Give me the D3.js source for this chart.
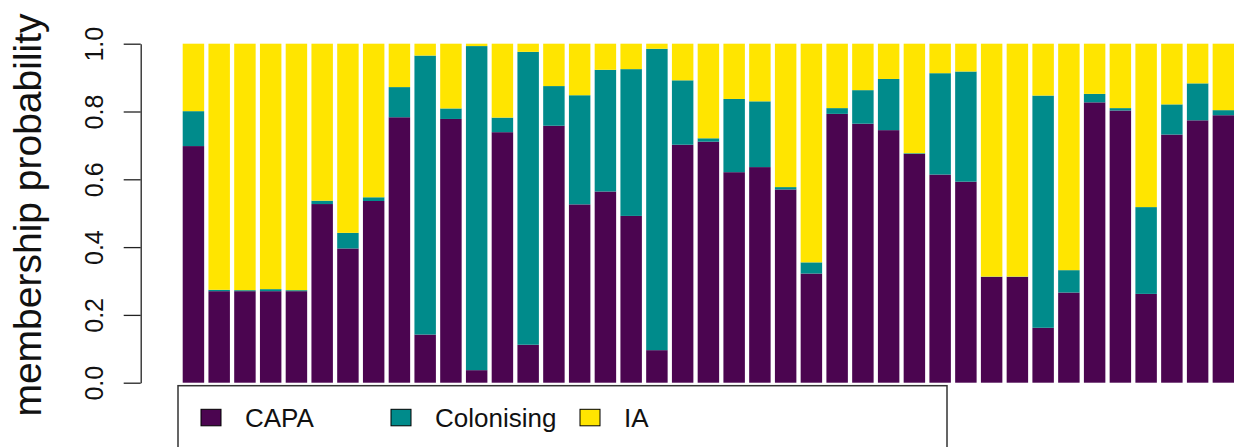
<!DOCTYPE html>
<html>
<head>
<meta charset="utf-8">
<script src="https://cdn.jsdelivr.net/npm/d3@7"></script>
<style>
  html, body { margin: 0; padding: 0; background: #fff; }
  svg { display: block; }
  text { font-family: "Liberation Sans", Arial, sans-serif; }
</style>
</head>
<body>
<svg id="chart" width="1234" height="447"></svg>
<script>
// Membership probabilities per sample (41 samples), stacked bottom to top.
const samples = d3.range(1, 42).map(String);
const capa = [0.698, 0.270, 0.270, 0.270, 0.270, 0.527, 0.396, 0.536, 0.783, 0.142,
              0.778, 0.037, 0.739, 0.112, 0.758, 0.526, 0.564, 0.492, 0.096, 0.702,
              0.711, 0.621, 0.636, 0.570, 0.322, 0.793, 0.764, 0.745, 0.675, 0.614,
              0.593, 0.312, 0.312, 0.162, 0.266, 0.827, 0.803, 0.262, 0.732, 0.774,
              0.789];
const colonising = [0.103, 0.004, 0.003, 0.006, 0.003, 0.010, 0.046, 0.011, 0.089, 0.823,
                    0.031, 0.956, 0.043, 0.864, 0.117, 0.322, 0.359, 0.433, 0.889, 0.190,
                    0.010, 0.216, 0.194, 0.007, 0.033, 0.017, 0.099, 0.151, 0.002, 0.299,
                    0.325, 0.001, 0.001, 0.685, 0.066, 0.025, 0.007, 0.256, 0.089, 0.109,
                    0.015];
const ia = [0.199, 0.726, 0.727, 0.724, 0.727, 0.463, 0.558, 0.453, 0.128, 0.035,
            0.191, 0.007, 0.218, 0.024, 0.125, 0.152, 0.077, 0.075, 0.015, 0.108,
            0.279, 0.163, 0.170, 0.423, 0.645, 0.190, 0.137, 0.104, 0.323, 0.087,
            0.082, 0.687, 0.687, 0.153, 0.668, 0.148, 0.190, 0.482, 0.179, 0.117,
            0.196];
const groups = ["CAPA", "Colonising", "IA"];
const groupColors = ["#4b0550", "#008b8b", "#ffe500"];
const yTicks = [0, 0.2, 0.4, 0.6, 0.8, 1.0];

const rows = samples.map((s, i) => ({
  sample: s, CAPA: capa[i], Colonising: colonising[i], IA: ia[i]
}));

const svg = d3.select("#chart");

const x = d3.scaleBand()
  .domain(samples)
  .range([182.7, 1234.1])
  .paddingInner(1 / 6)
  .paddingOuter(0);

const y = d3.scaleLinear().domain([0, 1]).range([382.7, 43.7]);

const color = d3.scaleOrdinal().domain(groups).range(groupColors);

const series = d3.stack().keys(groups)(rows);

svg.append("g")
  .selectAll("g")
  .data(series)
  .join("g")
    .attr("fill", d => color(d.key))
  .selectAll("rect")
  .data(d => d)
  .join("rect")
    .attr("x", d => x(d.data.sample))
    .attr("width", x.bandwidth())
    .attr("y", d => y(Math.min(1, d[1])))
    .attr("height", d => y(d[0]) - y(Math.min(1, d[1])));

// Left axis with rotated tick labels
const axis = svg.append("g")
  .attr("transform", "translate(140.7,0)")
  .call(d3.axisLeft(y).tickValues(yTicks).tickSize(17).tickSizeOuter(0)
    .tickFormat(d3.format(".1f")));
axis.select(".domain").attr("stroke", "#222").attr("stroke-width", 1.3);
axis.selectAll(".tick line").attr("stroke", "#222").attr("stroke-width", 1.3);
axis.selectAll(".tick text")
  .attr("x", null).attr("dy", null)
  .attr("transform", "translate(-38,0) rotate(-90)")
  .attr("text-anchor", "middle")
  .attr("fill", "#111")
  .style("font-size", "25px");

// Axis title
svg.append("text")
  .attr("transform", "translate(41,215) rotate(-90)")
  .attr("text-anchor", "middle")
  .attr("fill", "#111")
  .style("font-size", "39px")
  .text("membership probability");

// Legend box (extends below the visible area)
const legend = svg.append("g");
legend.append("rect")
  .attr("x", 178).attr("y", 385.7)
  .attr("width", 769).attr("height", 80)
  .attr("fill", "none")
  .attr("stroke", "#333")
  .attr("stroke-width", 1.5);

const legendX = [201, 391, 580];
groups.forEach((g, i) => {
  legend.append("rect")
    .attr("x", legendX[i]).attr("y", 409.3)
    .attr("width", 20).attr("height", 16.5)
    .attr("fill", color(g))
    .attr("stroke", "#000").attr("stroke-width", 1);
  legend.append("text")
    .attr("x", legendX[i] + 44).attr("y", 426.7)
    .attr("fill", "#111")
    .style("font-size", "26px")
    .text(g);
});
</script>
</body>
</html>
